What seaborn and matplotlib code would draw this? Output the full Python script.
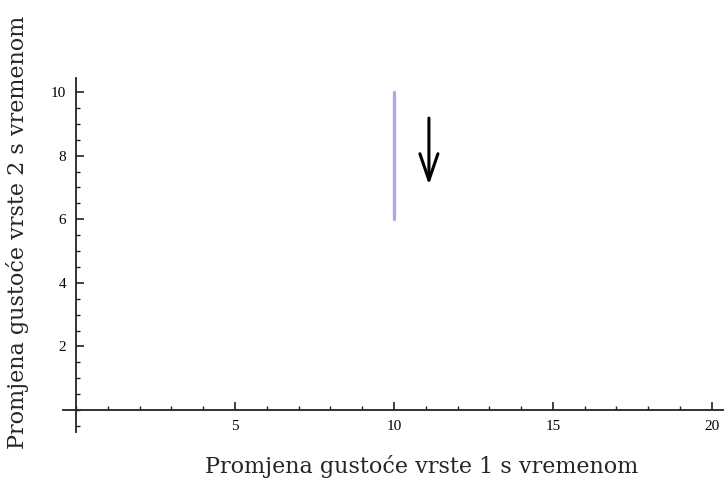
import matplotlib
matplotlib.use("Agg")
import matplotlib.pyplot as plt
import seaborn as sns
import pandas as pd
from matplotlib.ticker import MultipleLocator

# Trajectory segment and direction arrow
seg_x = [10, 10]
seg_y = [6, 10]
arrow_x = 11.1
arrow_y_start = 9.18
arrow_y_end = 7.08

x_ticks = [5, 10, 15, 20]
y_ticks = [2, 4, 6, 8, 10]
x_label = "Promjena gustoće vrste 1 s vremenom"
y_label = "Promjena gustoće vrste 2 s vremenom"

sns.set_style("white")
plt.rcParams["font.family"] = ["Liberation Serif", "DejaVu Serif"]

W, H = 725, 479
fig = plt.figure(figsize=(W / 100, H / 100), dpi=100)
ax = fig.add_axes([63 / W, 47 / H, 660 / W, 354 / H])

df = pd.DataFrame({"x": seg_x, "y": seg_y})
sns.lineplot(data=df, x="x", y="y", sort=False, estimator=None,
             color="#aaaae0", lw=2.4, ax=ax)

ax.annotate("", xy=(arrow_x, arrow_y_end), xytext=(arrow_x, arrow_y_start),
            arrowprops=dict(arrowstyle="->,head_length=1.9,head_width=0.65",
                            color="black", lw=2.2, shrinkA=0, shrinkB=0))

ax.set_xlim(-0.41, 20.35)
ax.set_ylim(-0.69, 10.44)

for side in ("top", "right"):
    ax.spines[side].set_visible(False)
ax.spines["left"].set_position(("data", 0))
ax.spines["bottom"].set_position(("data", 0))
for side in ("left", "bottom"):
    ax.spines[side].set_color("#222222")
    ax.spines[side].set_linewidth(1.3)

ax.set_xticks(x_ticks)
ax.set_yticks(y_ticks)
ax.xaxis.set_minor_locator(MultipleLocator(1))
ax.yaxis.set_minor_locator(MultipleLocator(0.5))
ax.tick_params(axis="both", which="major", direction="in", length=5.5, width=1.2,
               colors="#222222", labelcolor="black", labelsize=11,
               bottom=True, left=True)
ax.tick_params(axis="both", which="minor", direction="in", length=3, width=1.0,
               colors="#222222", bottom=True, left=True)
ax.tick_params(axis="x", which="major", pad=7)
ax.tick_params(axis="y", which="major", pad=7)

ax.set_xlabel("")
ax.set_ylabel("")
fig.text(422 / W, 1 - 473 / H, x_label, ha="center", va="baseline",
         fontsize=16, family=["DejaVu Serif"])
fig.text(18 / W, 1 - 232 / H, y_label, ha="center", va="center",
         rotation=90, fontsize=16, family=["DejaVu Serif"])

fig.savefig("out.png", dpi=100)
